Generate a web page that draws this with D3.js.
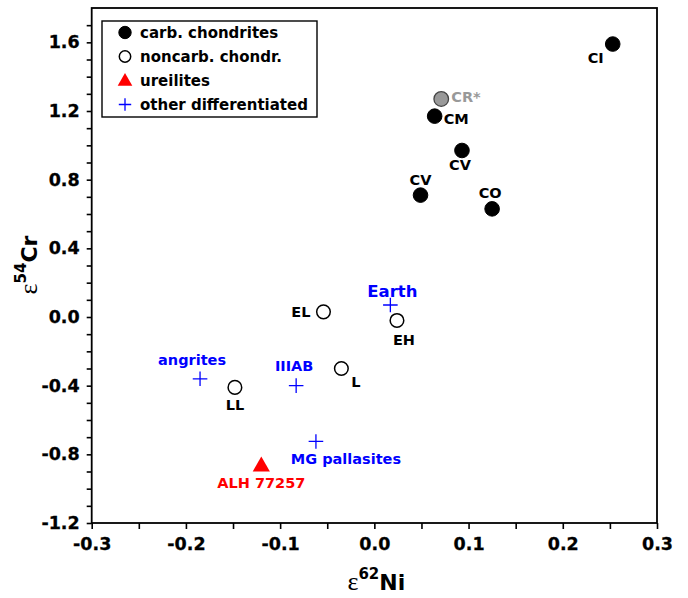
<!DOCTYPE html>
<html>
<head>
<meta charset="utf-8">
<script src="https://cdn.jsdelivr.net/npm/d3@7"></script>
<style>
	body { margin: 0; background: #fff; }
	text { font-family: "DejaVu Sans", sans-serif; font-weight: bold; }
</style>
</head>
<body>
<div id="chart"></div>
<script>
// data
var names = ["CI", "CR*", "CM", "CV", "CV", "CO", "EL", "EH", "LL", "L", "Earth", "angrites", "IIIAB", "MG pallasites", "ALH 77257"];
var groups = ["carb", "cr", "carb", "carb", "carb", "carb", "noncarb", "noncarb", "noncarb", "noncarb", "diff", "diff", "diff", "diff", "ureil"];
var ni62 = [0.253, 0.071, 0.064, 0.093, 0.049, 0.125, -0.054, 0.024, -0.148, -0.035, 0.017, -0.185, -0.083, -0.062, -0.120];
var cr54 = [1.59, 1.27, 1.17, 0.97, 0.71, 0.63, 0.03, -0.02, -0.41, -0.30, 0.07, -0.36, -0.40, -0.725, -0.865];

var legendKeys = ["carb", "noncarb", "ureil", "diff"];
var legendLabels = ["carb. chondrites", "noncarb. chondr.", "ureilites", "other differentiated"];

var xTicks = [-0.3, -0.2, -0.1, 0.0, 0.1, 0.2, 0.3];
var yTicks = [-1.2, -0.8, -0.4, 0.0, 0.4, 0.8, 1.2, 1.6];

// label placement next to each point: anchor, dx, dy
var labelPos = [
	["middle", -17, 19], ["start", 10, 3], ["start", 9, 8], ["middle", -2, 20], ["middle", 0, -10],
	["middle", -2, -11], ["end", -13, 5], ["middle", 7, 25], ["middle", 0, 23], ["start", 10, 18],
	["middle", 2, -8], ["middle", -8, -14], ["middle", -2, -15], ["middle", 30, 23], ["middle", 0, 23]
];

var width = 688, height = 598;
var pLeft = 91.7, pRight = 657, pTop = 8, pBottom = 523;

var svg = d3.select("#chart").append("svg")
	.attr("width", width)
	.attr("height", height);

var x = d3.scaleLinear().domain([-0.3, 0.3]).range([pLeft, pRight]);
var y = d3.scaleLinear().domain([-1.2, 1.8]).range([pBottom, pTop]);

function fmt(d) {
	return d3.format(".1f")(d).replace("\u2212", "-");
}
function isMajor(d, list) {
	return list.some(function (t) { return Math.abs(t - d) < 1e-6; });
}

// frame
svg.append("rect")
	.attr("x", pLeft).attr("y", pTop)
	.attr("width", pRight - pLeft).attr("height", pBottom - pTop)
	.attr("fill", "none").attr("stroke", "#000").attr("stroke-width", 1.8);

// x axis: minor every 0.05, labels every 0.1
var xAxis = d3.axisBottom(x)
	.tickValues(d3.range(-6, 7).map(function (i) { return i * 0.05; }))
	.tickSize(6)
	.tickFormat(function (d) { return isMajor(d, xTicks) ? fmt(d) : ""; });
var gx = svg.append("g").attr("transform", "translate(0," + pBottom + ")").call(xAxis);
gx.select(".domain").remove();
gx.selectAll("line").attr("stroke-width", 1.6);
gx.selectAll("text").attr("font-size", 17.5).attr("dy", "1.05em").attr("font-family", "DejaVu Sans")
	.attr("fill", "#000").attr("stroke", "#000").attr("stroke-width", 0.3);

// y axis: minor every 0.1, labels every 0.4
var yAxis = d3.axisLeft(y)
	.tickValues(d3.range(-12, 18).map(function (i) { return i / 10; }))
	.tickSize(5)
	.tickFormat(function (d) { return isMajor(d, yTicks) ? fmt(d) : ""; });
var gy = svg.append("g").attr("transform", "translate(" + pLeft + ",0)").call(yAxis);
gy.select(".domain").remove();
gy.selectAll("line").attr("stroke-width", 1.6);
gy.selectAll("text").attr("font-size", 17.5).attr("x", -12).attr("font-family", "DejaVu Sans")
	.attr("fill", "#000").attr("stroke", "#000").attr("stroke-width", 0.3);

// axis titles
var xt = svg.append("text")
	.attr("x", (pLeft + pRight) / 2 + 2).attr("y", 590)
	.attr("text-anchor", "middle").attr("font-size", 22);
xt.append("tspan").text("ε").attr("font-family", "Liberation Serif").attr("font-weight", "normal").attr("font-size", 26);
xt.append("tspan").text("62").attr("font-size", 15).attr("dy", -11);
xt.append("tspan").text("Ni").attr("dy", 11);

var yt = svg.append("text")
	.attr("transform", "translate(37,265) rotate(-90)")
	.attr("text-anchor", "middle").attr("font-size", 22);
yt.append("tspan").text("ε").attr("font-family", "Liberation Serif").attr("font-weight", "normal").attr("font-size", 26);
yt.append("tspan").text("54").attr("font-size", 15).attr("dy", -11);
yt.append("tspan").text("Cr").attr("dy", 11);

// marker drawing
function drawMarker(g, group, cx, cy, s) {
	if (group === "carb") {
		g.append("circle").attr("cx", cx).attr("cy", cy).attr("r", s)
			.attr("fill", "#000").attr("stroke", "#000");
	} else if (group === "cr") {
		g.append("circle").attr("cx", cx).attr("cy", cy).attr("r", s)
			.attr("fill", "#999").attr("stroke", "#444").attr("stroke-width", 1.3);
	} else if (group === "noncarb") {
		g.append("circle").attr("cx", cx).attr("cy", cy).attr("r", s - 0.5)
			.attr("fill", "#fff").attr("stroke", "#000").attr("stroke-width", 1.5);
	} else if (group === "ureil") {
		var sym = d3.symbol().type(d3.symbolTriangle).size(s * s * 2.4);
		g.append("path").attr("d", sym())
			.attr("transform", "translate(" + cx + "," + (cy + 1) + ")")
			.attr("fill", "#ff0000");
	} else {
		g.append("path")
			.attr("d", "M" + (cx - s) + "," + cy + "H" + (cx + s) + "M" + cx + "," + (cy - s) + "V" + (cy + s))
			.attr("stroke", "#0000ff").attr("stroke-width", 1.3).attr("fill", "none");
	}
}

var labelColor = { carb: "#000", noncarb: "#000", cr: "#999", diff: "#0000ff", ureil: "#ff0000" };

var pts = svg.append("g");
names.forEach(function (n, i) {
	drawMarker(pts, groups[i], x(ni62[i]), y(cr54[i]), 7.3);
});
names.forEach(function (n, i) {
	var p = labelPos[i];
	svg.append("text")
		.attr("x", x(ni62[i]) + p[1])
		.attr("y", y(cr54[i]) + p[2])
		.attr("text-anchor", p[0])
		.attr("font-size", n === "Earth" ? 16.5 : 14.5)
		.attr("fill", labelColor[groups[i]])
		.text(n);
});

// legend
var lg = svg.append("g");
lg.append("rect")
	.attr("x", 102).attr("y", 21).attr("width", 215).attr("height", 96)
	.attr("fill", "#fff").attr("stroke", "#000").attr("stroke-width", 1.4);
legendKeys.forEach(function (k, i) {
	var cy = 32.5 + i * 24;
	drawMarker(lg, k, 125, cy, 6.2);
	lg.append("text").attr("x", 140).attr("y", cy + 5.5)
		.attr("font-size", 15).attr("fill", "#000")
		.text(legendLabels[i]);
});
</script>
</body>
</html>
